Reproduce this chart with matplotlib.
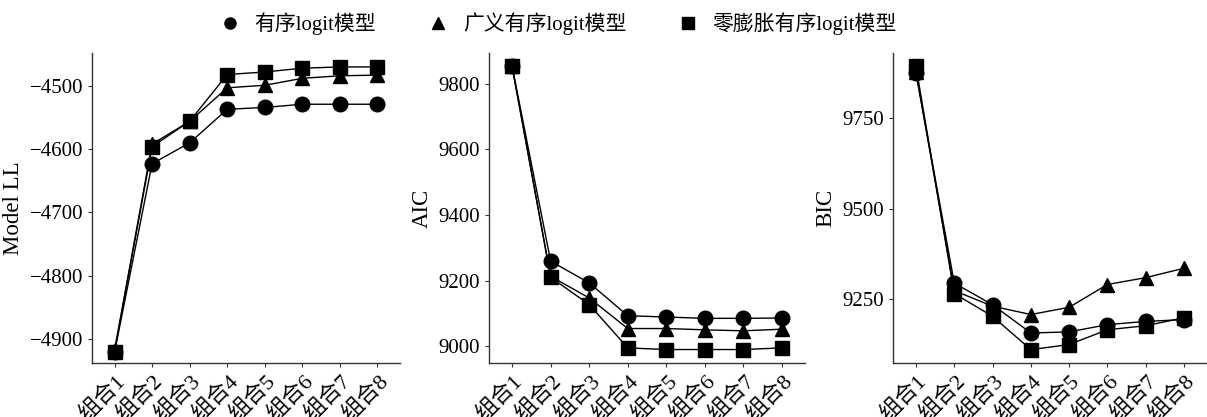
import numpy as np
import matplotlib
matplotlib.use("Agg")
import matplotlib.pyplot as plt
from matplotlib.lines import Line2D

plt.rcParams["font.family"] = ["Liberation Serif", "Noto Sans CJK SC"]

groups = ["组合1", "组合2", "组合3", "组合4", "组合5", "组合6", "组合7", "组合8"]
model_names = ["有序logit模型", "广义有序logit模型", "零膨胀有序logit模型"]
markers = ["o", "^", "s"]

# Model LL
ll_ologit = [-4921, -4623, -4590, -4537, -4534, -4529, -4529, -4529]
ll_gologit = [-4918, -4592, -4556, -4503, -4499, -4488, -4484, -4483]
ll_ziologit = [-4920, -4596, -4556, -4482, -4478, -4472, -4470, -4470]

# AIC
aic_ologit = [9852, 9259, 9193, 9093, 9089, 9085, 9085, 9086]
aic_gologit = [9852, 9213, 9147, 9054, 9054, 9050, 9047, 9052]
aic_ziologit = [9852, 9210, 9127, 8995, 8990, 8990, 8990, 8995]

# BIC
bic_ologit = [9874, 9294, 9234, 9156, 9159, 9179, 9188, 9193]
bic_gologit = [9878, 9273, 9230, 9207, 9227, 9290, 9309, 9335]
bic_ziologit = [9893, 9265, 9202, 9110, 9124, 9165, 9176, 9198]

panels = [
    ("Model LL", [ll_ologit, ll_gologit, ll_ziologit], (-4938, -4448), [-4900, -4800, -4700, -4600, -4500]),
    ("AIC", [aic_ologit, aic_gologit, aic_ziologit], (8949, 9893), [9000, 9200, 9400, 9600, 9800]),
    ("BIC", [bic_ologit, bic_gologit, bic_ziologit], (9073, 9930), [9250, 9500, 9750]),
]

W, H = 1207, 417
fig = plt.figure(figsize=(W / 100, H / 100), dpi=100)
lefts = [92, 489, 893]
rights = [400, 805, 1207]
top, bottom = 53, 363

x = np.arange(len(groups))
for (ylabel, series, ylim, yticks), l, r in zip(panels, lefts, rights):
    ax = fig.add_axes([l / W, 1 - bottom / H, (r - l) / W, (bottom - top) / H])
    for vals, m in zip(series, markers):
        ax.plot(x, vals, color="black", lw=1.0, marker=m, markersize=10.5,
                markerfacecolor="black", markeredgecolor="black")
    ax.set_xlim(-0.6, 7.6)
    ax.set_ylim(*ylim)
    ax.set_yticks(yticks)
    ax.set_yticklabels([str(v).replace("-", "\u2212") for v in yticks])
    ax.set_xticks(x)
    ax.set_xticklabels(groups, rotation=45, ha="right", va="top",
                       rotation_mode="anchor")
    ax.set_ylabel(ylabel, fontsize=16.5, labelpad=4)
    ax.tick_params(axis="y", labelsize=15, color="#333333", length=3, width=0.8)
    ax.tick_params(axis="x", labelsize=16, color="#333333", length=3, width=0.8, pad=3)
    for side in ["top", "right"]:
        ax.spines[side].set_visible(False)
    for side in ["left", "bottom"]:
        ax.spines[side].set_color("#333333")
        ax.spines[side].set_linewidth(1.0)

handles = [Line2D([], [], color="black", marker=m, linestyle="none", markersize=8)
           for m in markers]
fig.legend(handles, model_names, loc="upper center", bbox_to_anchor=(0.458, 1.0),
           ncol=3, frameon=False, fontsize=15, handletextpad=0.2,
           columnspacing=1.95, borderaxespad=0.2)

plt.savefig("out.png", dpi=100)
plt.close()
